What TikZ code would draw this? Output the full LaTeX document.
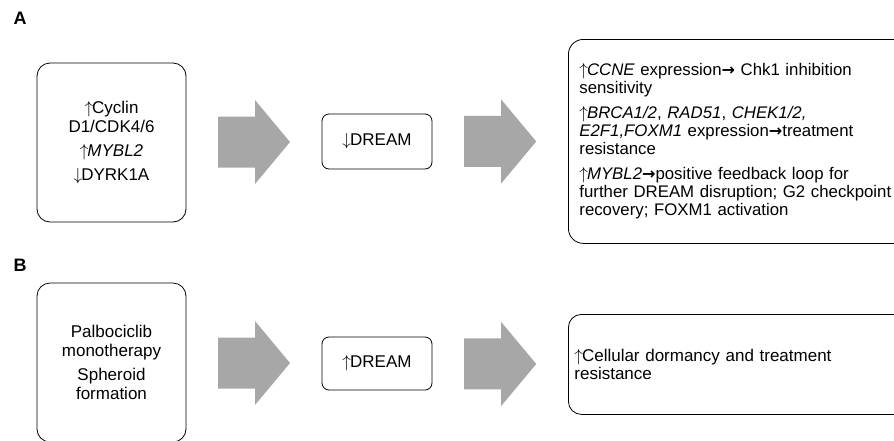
\documentclass[tikz,border=0pt]{standalone}
\usepackage{fontspec}
\setmainfont{Liberation Sans}
\newfontfamily\symfont{DejaVu Sans}
\usetikzlibrary{positioning,calc}
\definecolor{arrgray}{RGB}{167,167,167}
\newcommand\uparr{$\uparrow$\kern-1pt}
\newcommand\downarr{$\downarrow$\kern-1pt}
\newcommand\rarr{{\symfont\bfseries\fontsize{16}{16}\selectfont →}}

\begin{document}
\begin{tikzpicture}[x=1pt,y=-1pt]
		\tikzstyle{every node}=[font=\fontsize{17}{18.5}\selectfont]
		\tikzstyle{box}=[draw, line width=0.8pt, rounded corners=13pt, align=center, inner sep=0pt]
		\tikzstyle{small box}=[box, rounded corners=7pt, minimum width=110, minimum height=55]
		\tikzstyle{wide box}=[box, anchor=north west, text width=340, align=left]
		\tikzstyle{panel}=[font=\fontsize{18}{18}\selectfont\bfseries]
		\tikzstyle{fat arrow}=[fill=arrgray]
		\useasboundingbox (0,0) rectangle (894,440);
		% panel A
		\node[panel] (LabelA) at (20,18.5) {A};
		\node[box, minimum width=149, minimum height=159] (Drivers) at (111.5,142.5)
			{\uparr Cyclin\\D1/CDK4/6\\[6pt]\uparr\textit{MYBL2}\\[5pt]\downarr DYRK1A};
		\node[small box] (DreamA) at (377,141.5) {\downarr DREAM};
		\node[wide box, rounded corners=15pt, minimum height=204, inner xsep=11pt,
			font=\fontsize{16.8}{18.3}\selectfont] (OutcomeA) at (568,39)
			{\uparr\textit{CCNE} expression\rarr\ Chk1 inhibition\\sensitivity\\[6pt]
			\uparr\textit{BRCA1/2}, \textit{RAD51}, \textit{CHEK1/2,}\\\textit{E2F1,FOXM1} expression\rarr treatment\\resistance\\[6pt]
			\uparr\textit{MYBL2}\rarr positive feedback loop for\\further DREAM disruption; G2 checkpoint\\recovery; FOXM1 activation};
		% panel B
		\node[panel] (LabelB) at (20,265) {B};
		\node[box, minimum width=149, minimum height=159] (Therapy) at (111.5,362.5)
			{Palbociclib\\monotherapy\\[6pt]Spheroid\\formation};
		\node[small box, minimum height=53] (DreamB) at (377,363.5) {\uparr DREAM};
		\node[wide box, minimum height=100, inner xsep=6pt] (OutcomeB) at (568,314)
			{\uparr Cellular dormancy and treatment\\resistance};
		% block arrows between the boxes
		\foreach \a/\b in {Drivers/DreamA, DreamA/OutcomeA, Therapy/DreamB, DreamB/OutcomeB}
			\fill[fat arrow] ($(\a.east)!0.5!(\b.west)$) ++(-36,-25.5) -- ++(37,0) -- ++(0,-16.5)
				-- ++(35,42) -- ++(-35,42) -- ++(0,-16.5) -- ++(-37,0) -- cycle;
\end{tikzpicture}
\end{document}
